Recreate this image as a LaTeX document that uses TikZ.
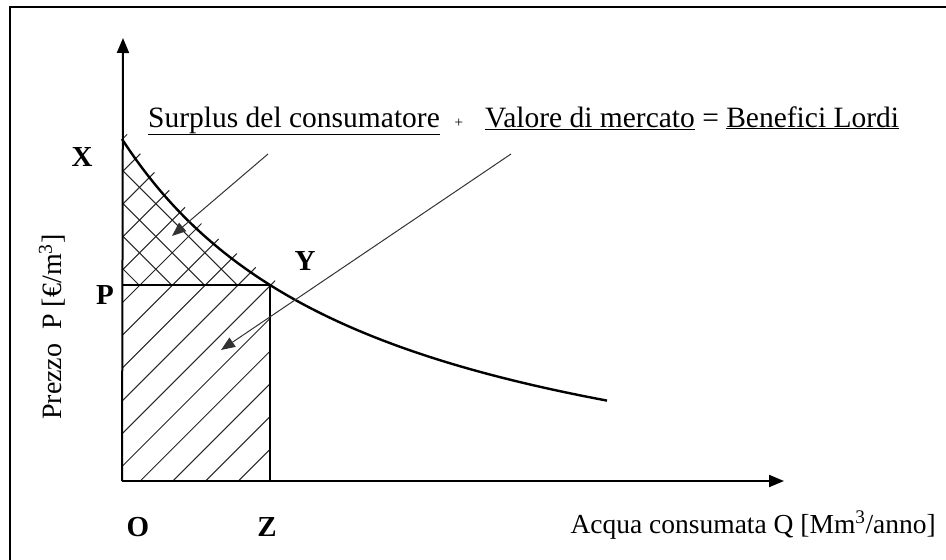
\documentclass[tikz,border=0pt]{standalone}
\usepackage{fontspec}
\setmainfont{Liberation Serif}
\usetikzlibrary{arrows.meta}
\tikzset{
  axis/.style={line width=2pt, -{Triangle[length=15pt,width=12pt]}},
  demand/.style={line width=2.4pt},
  hatch/.style={line width=1pt, black!85},
  thinline/.style={line width=1.3pt},
  leader/.style={line width=1pt, black!80, -{Triangle[length=14pt,width=11pt]}},
  lbl/.style={font=\fontsize{29}{33}\selectfont\bfseries, inner sep=0pt},
  txt/.style={font=\fontsize{27.5}{31}\selectfont, inner sep=0pt},
  frameline/.style={line width=2pt}
}
\begin{document}
\begin{tikzpicture}[x=1pt,y=-1pt]
\useasboundingbox (0,0) rectangle (946,560);
% frame
\draw[frameline] (10,560) -- (10,7) -- (946,7);
% hatching: "/" family, lower region
\begin{scope}
  \clip (122,285) rectangle (270,481);
  \foreach \k in {0,...,16}{
    \pgfmathsetmacro\cc{752-32.7*\k}
    \draw[hatch] ({\cc-100},100) -- ({\cc-600},600);
  }
\end{scope}
% hatching: "/" family, upper region (slightly overshooting the curve)
\begin{scope}
  \clip (122,285) -- (122,128) -- plot[domain=0:1.48,samples=40] ({127+100*\x},{535-1036.58/(\x+2.585)}) -- (275,285) -- cycle;
  \foreach \k in {0,...,16}{
    \pgfmathsetmacro\cc{752-32.7*\k}
    \draw[hatch] ({\cc-100},100) -- ({\cc-600},600);
  }
\end{scope}
% hatching: "\" family, upper region
\begin{scope}
  \clip (122,285) -- plot[domain=0:1.48,samples=40] ({122+100*\x},{540-1036.58/(\x+2.585)}) -- (270,285) -- cycle;
  \foreach \k in {-1,...,6}{
    \pgfmathsetmacro\dd{146-32.7*\k}
    \draw[hatch] (0,\dd) -- (600,{\dd+600});
  }
\end{scope}
% named points
\coordinate (O) at (122,481);
\coordinate (ytip) at (123,38);
\coordinate (xtip) at (784,481);
\coordinate (Pp) at (122,285);
\coordinate (E) at (270,285);
\coordinate (Zp) at (270,481);
\coordinate (s1) at (268,154);
\coordinate (e1) at (172,236);
\coordinate (s2) at (511,154);
\coordinate (e2) at (221,350);
% P and Z lines
\draw[thinline] (Pp) -- (E) -- (Zp);
% axes
\draw[axis] (O) -- (ytip);
\draw[axis] (O) -- (xtip);
% demand curve
\draw[demand] plot[domain=0:4.85,samples=120] ({122+100*\x},{540-1036.58/(\x+2.585)});
% leaders
\draw[leader] (s1) -- (e1);
\draw[leader] (s2) -- (e2);
% labels
\node[lbl] (lX) at (82,157) {X};
\node[lbl] (lP) at (105,295) {P};
\node[lbl] (lY) at (305,261) {Y};
\node[lbl] (lO) at (138,527) {O};
\node[lbl] (lZ) at (267,527) {Z};
\node[txt, font=\fontsize{28}{32}\selectfont, rotate=90, anchor=base west] (ylab) at (61,420) {Prezzo\ \ P [€/m\textsuperscript{3}]};
\node[txt, anchor=base east] (xlab) at (936,533) {Acqua consumata Q [Mm\textsuperscript{3}/anno]};
\node[txt, font=\fontsize{29.5}{34}\selectfont, anchor=base west] (title) at (148,127) {\underline{Surplus del consumatore}\ \ {\fontsize{15}{17}\selectfont +}\ \ \ \underline{Valore di mercato} = \underline{Benefici Lordi}};
\end{tikzpicture}
\end{document}
